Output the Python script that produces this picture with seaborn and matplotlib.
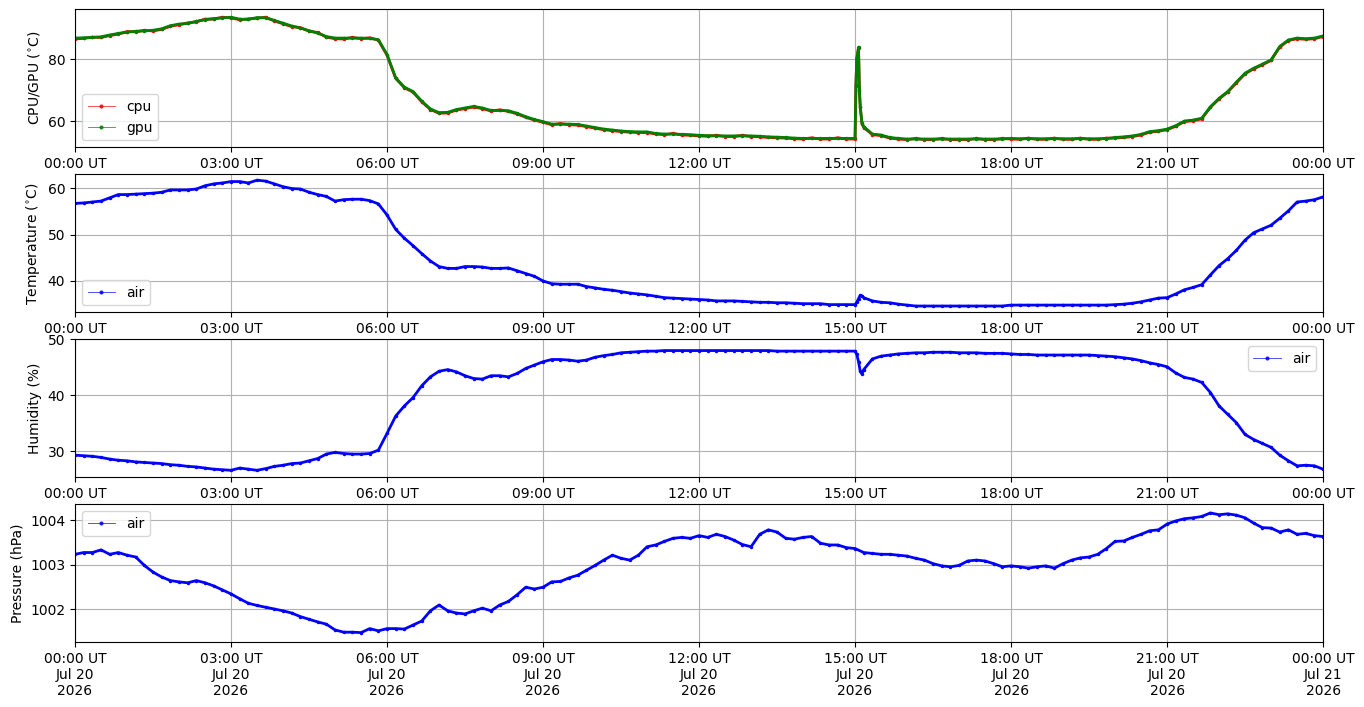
import matplotlib
matplotlib.use("Agg")
import matplotlib.pyplot as plt
import matplotlib.dates as mdates
from matplotlib.lines import Line2D
from matplotlib.ticker import MultipleLocator, ScalarFormatter
import seaborn as sns
import pandas as pd
import numpy as np

# ---------------- data (10-minute samples, 00:00 Jul 20 -> 00:00 Jul 21 2026) ----------------
day_start = "2026-07-20 00:00"
day_end = "2026-07-21 00:00"

gpu_temp = [
    86.8, 86.9, 87.0, 87.2, 87.8, 88.3,
    88.7, 89.0, 89.1, 89.3, 89.8, 90.8,
    91.3, 91.5, 92.2, 92.7, 93.1, 93.3,
    93.5, 92.9, 92.8, 93.4, 93.3, 92.5,
    91.6, 90.7, 90.0, 89.2, 88.4, 87.3,
    86.8, 86.8, 86.8, 86.8, 86.7, 86.3,
    81.5, 74.0, 71.0, 69.6, 66.5, 64.0,
    62.8, 62.9, 63.8, 64.3, 64.8, 64.3,
    63.5, 63.5, 63.4, 62.6, 61.5, 60.6,
    59.9, 59.1, 59.1, 59.1, 59.0, 58.5,
    58.0, 57.5, 57.2, 56.9, 56.7, 56.6,
    56.6, 56.1, 55.9, 55.9, 55.8, 55.7,
    55.5, 55.4, 55.3, 55.3, 55.3, 55.3,
    55.3, 55.2, 55.0, 54.9, 54.8, 54.6,
    54.5, 54.5, 54.5, 54.5, 54.5, 54.5,
    54.5, 58.3, 55.9, 55.6, 54.8, 54.5,
    54.3, 54.3, 54.3, 54.3, 54.3, 54.3,
    54.3, 54.3, 54.3, 54.3, 54.3, 54.3,
    54.5, 54.4, 54.4, 54.4, 54.4, 54.4,
    54.4, 54.4, 54.4, 54.4, 54.4, 54.4,
    54.8, 55.0, 55.3, 55.8, 56.7, 57.0,
    57.5, 58.6, 60.1, 60.4, 61.0, 64.7,
    67.4, 69.6, 72.6, 75.5, 77.1, 78.4,
    79.8, 84.1, 86.2, 86.8, 86.6, 86.8,
    87.5,
]
cpu_temp = [
    86.5, 86.7, 87.1, 87.0, 87.6, 88.1,
    88.9, 88.8, 89.3, 89.1, 89.6, 90.6,
    91.1, 91.7, 92.0, 92.9, 92.9, 93.5,
    93.3, 92.7, 93.0, 93.2, 93.5, 92.3,
    91.4, 90.5, 90.2, 89.0, 88.6, 87.1,
    86.6, 86.5, 87.0, 86.6, 86.9, 86.1,
    81.3, 73.8, 70.8, 69.4, 66.3, 63.8,
    62.6, 62.7, 63.6, 64.1, 64.6, 64.1,
    63.3, 63.7, 63.2, 62.4, 61.3, 60.4,
    59.7, 58.9, 59.3, 58.9, 58.8, 58.3,
    57.8, 57.3, 57.0, 56.7, 56.5, 56.4,
    56.4, 55.9, 55.7, 56.1, 55.6, 55.5,
    55.3, 55.2, 55.5, 55.1, 55.1, 55.5,
    55.1, 55.0, 54.8, 54.7, 54.6, 54.4,
    54.3, 54.7, 54.3, 54.3, 54.7, 54.3,
    54.3, 58.0, 55.7, 55.4, 54.6, 54.3,
    54.1, 54.5, 54.1, 54.1, 54.5, 54.1,
    54.1, 54.1, 54.5, 54.1, 54.1, 54.5,
    54.3, 54.2, 54.6, 54.2, 54.2, 54.6,
    54.2, 54.2, 54.6, 54.2, 54.2, 54.6,
    54.6, 54.8, 55.1, 55.6, 56.5, 56.8,
    57.3, 58.4, 59.9, 60.2, 60.8, 64.5,
    67.2, 69.4, 72.4, 75.3, 76.9, 78.2,
    79.6, 83.9, 86.0, 86.6, 86.4, 86.6,
    87.3,
]
spike_times = ["15:01", "15:02", "15:04", "15:05", "15:06", "15:08"]
gpu_spike = [71.7, 80.3, 83.9, 70.1, 64.7, 59.4]
cpu_spike = [71.5, 80.1, 83.5, 69.9, 64.5, 59.2]

air_temp = [
    56.7, 56.8, 57.0, 57.2, 57.9, 58.6,
    58.6, 58.7, 58.8, 58.9, 59.1, 59.6,
    59.6, 59.6, 59.8, 60.5, 60.9, 61.1,
    61.4, 61.4, 61.1, 61.7, 61.5, 60.9,
    60.3, 59.9, 59.8, 59.1, 58.6, 58.2,
    57.2, 57.5, 57.6, 57.6, 57.3, 56.6,
    54.2, 51.1, 49.2, 47.6, 45.9, 44.3,
    43.1, 42.7, 42.7, 43.1, 43.1, 43.0,
    42.7, 42.7, 42.8, 42.2, 41.6, 41.0,
    40.0, 39.4, 39.3, 39.3, 39.3, 38.8,
    38.5, 38.2, 38.0, 37.7, 37.4, 37.2,
    37.0, 36.7, 36.4, 36.3, 36.2, 36.1,
    36.0, 35.9, 35.7, 35.7, 35.7, 35.6,
    35.5, 35.4, 35.4, 35.3, 35.3, 35.2,
    35.1, 35.1, 35.1, 34.9, 34.9, 34.9,
    34.9, 36.4, 35.7, 35.4, 35.3, 35.0,
    34.8, 34.6, 34.6, 34.6, 34.6, 34.6,
    34.6, 34.6, 34.6, 34.6, 34.6, 34.6,
    34.8, 34.8, 34.8, 34.8, 34.8, 34.8,
    34.8, 34.8, 34.8, 34.8, 34.8, 34.8,
    34.9, 35.0, 35.2, 35.5, 35.9, 36.3,
    36.4, 37.2, 38.1, 38.6, 39.2, 41.3,
    43.3, 44.8, 46.6, 48.8, 50.4, 51.2,
    52.0, 53.5, 55.1, 57.0, 57.2, 57.5,
    58.1,
]
air_spike_times = ["15:02", "15:04", "15:06", "15:08"]
air_temp_spike = [35.4, 36.2, 36.9, 36.8]

humidity = [
    29.3, 29.2, 29.1, 28.9, 28.6, 28.4,
    28.3, 28.1, 28.0, 27.9, 27.8, 27.6,
    27.5, 27.3, 27.2, 27.0, 26.8, 26.7,
    26.6, 27.0, 26.8, 26.6, 26.9, 27.3,
    27.5, 27.8, 27.9, 28.3, 28.7, 29.5,
    29.8, 29.6, 29.5, 29.5, 29.6, 30.2,
    33.2, 36.3, 38.1, 39.6, 41.7, 43.3,
    44.3, 44.6, 44.2, 43.5, 43.0, 42.9,
    43.5, 43.5, 43.3, 43.9, 44.8, 45.4,
    46.0, 46.4, 46.4, 46.3, 46.1, 46.3,
    46.8, 47.1, 47.3, 47.6, 47.7, 47.8,
    47.9, 47.9, 48.0, 48.0, 48.0, 48.0,
    48.0, 48.0, 48.0, 48.0, 48.0, 48.0,
    48.0, 48.0, 48.0, 47.9, 47.9, 47.9,
    47.9, 47.9, 47.9, 47.9, 47.9, 47.9,
    47.9, 44.6, 46.5, 47.0, 47.2, 47.4,
    47.5, 47.6, 47.6, 47.7, 47.7, 47.7,
    47.6, 47.6, 47.6, 47.5, 47.5, 47.5,
    47.4, 47.3, 47.3, 47.2, 47.2, 47.2,
    47.2, 47.2, 47.2, 47.2, 47.1, 47.0,
    46.9, 46.7, 46.5, 46.2, 45.8, 45.5,
    45.1, 44.0, 43.2, 42.9, 42.3, 40.5,
    38.1, 36.6, 35.1, 33.0, 32.1, 31.4,
    30.7, 29.3, 28.3, 27.4, 27.5, 27.4,
    26.8,
]
humidity_spike = [47.3, 46.0, 44.3, 43.8]

pressure = [
    1003.23, 1003.27, 1003.27, 1003.33, 1003.23, 1003.27,
    1003.21, 1003.17, 1002.98, 1002.83, 1002.72, 1002.64,
    1002.61, 1002.59, 1002.64, 1002.59, 1002.52, 1002.43,
    1002.34, 1002.23, 1002.13, 1002.08, 1002.04, 1002.00,
    1001.96, 1001.91, 1001.83, 1001.77, 1001.71, 1001.66,
    1001.53, 1001.48, 1001.48, 1001.47, 1001.56, 1001.51,
    1001.56, 1001.56, 1001.55, 1001.64, 1001.73, 1001.96,
    1002.09, 1001.96, 1001.91, 1001.89, 1001.96, 1002.02,
    1001.96, 1002.09, 1002.17, 1002.32, 1002.49, 1002.45,
    1002.49, 1002.61, 1002.62, 1002.70, 1002.76, 1002.87,
    1002.98, 1003.10, 1003.21, 1003.14, 1003.10, 1003.21,
    1003.40, 1003.44, 1003.52, 1003.59, 1003.61, 1003.59,
    1003.65, 1003.61, 1003.68, 1003.63, 1003.55, 1003.45,
    1003.40, 1003.68, 1003.78, 1003.73, 1003.59, 1003.57,
    1003.61, 1003.63, 1003.48, 1003.44, 1003.44, 1003.38,
    1003.36, 1003.27, 1003.25, 1003.23, 1003.23, 1003.21,
    1003.19, 1003.14, 1003.10, 1003.02, 1002.97, 1002.95,
    1002.98, 1003.08, 1003.10, 1003.08, 1003.02, 1002.95,
    1002.97, 1002.95, 1002.92, 1002.95, 1002.97, 1002.92,
    1003.02, 1003.10, 1003.15, 1003.17, 1003.23, 1003.36,
    1003.52, 1003.53, 1003.61, 1003.68, 1003.76, 1003.78,
    1003.91, 1003.98, 1004.03, 1004.05, 1004.08, 1004.16,
    1004.12, 1004.14, 1004.11, 1004.05, 1003.93, 1003.83,
    1003.82, 1003.73, 1003.78, 1003.68, 1003.70, 1003.65,
    1003.63,
]

ylabels = ["CPU/GPU ($^{\\circ}$C)", "Temperature ($^{\\circ}$C)", "Humidity (%)", "Pressure (hPa)"]
xtick_fmt = "%H:%M UT"
xtick_fmt_last = "%H:%M UT\n%b %d\n%Y"

# ---------------- build frames ----------------
base_t = pd.date_range(day_start, day_end, freq="10min")
day0 = pd.Timestamp(day_start).strftime("%Y-%m-%d")


def with_extra(values, extra_times, extra_values):
    t = list(base_t) + [pd.Timestamp(f"{day0} {s}") for s in extra_times]
    v = list(values) + list(extra_values)
    return pd.DataFrame({"time": t, "value": v}).sort_values("time")


df_cpu = with_extra(cpu_temp, spike_times, cpu_spike)
df_gpu = with_extra(gpu_temp, spike_times, gpu_spike)
df_air = with_extra(air_temp, air_spike_times, air_temp_spike)
df_hum = with_extra(humidity, air_spike_times, humidity_spike)
df_prs = pd.DataFrame({"time": base_t, "value": pressure})

# ---------------- figure ----------------
fig, axes = plt.subplots(4, 1, figsize=(13.64, 7.07), dpi=100)
fig.subplots_adjust(left=0.055, right=0.970, top=0.987, bottom=0.092, hspace=0.196)

LW = 2.0
MS = 2.5


def draw(ax, df, color):
    sns.lineplot(data=df, x="time", y="value", ax=ax, color=color, linewidth=LW,
                 marker="o", markersize=MS, markeredgewidth=0, sort=True,
                 estimator=None, legend=False)


def handle(color, label):
    return Line2D([], [], color=color, lw=0.6, alpha=0.8, marker=".", markersize=4,
                  markeredgecolor=color, markerfacecolor=color, label=label)


draw(axes[0], df_cpu, "red")
draw(axes[0], df_gpu, "green")
axes[0].legend(handles=[handle("red", "cpu"), handle("green", "gpu")], loc="lower left")
axes[0].set_ylim(51.7, 96.1)
axes[0].yaxis.set_major_locator(MultipleLocator(20))

draw(axes[1], df_air, "blue")
axes[1].legend(handles=[handle("blue", "air")], loc="lower left")
axes[1].set_ylim(33.3, 63.0)
axes[1].yaxis.set_major_locator(MultipleLocator(10))

draw(axes[2], df_hum, "blue")
axes[2].legend(handles=[handle("blue", "air")], loc="upper right")
axes[2].set_ylim(25.4, 50.05)
axes[2].yaxis.set_major_locator(MultipleLocator(10))

draw(axes[3], df_prs, "blue")
axes[3].legend(handles=[handle("blue", "air")], loc="upper left")
axes[3].set_ylim(1001.26, 1004.36)
axes[3].yaxis.set_major_locator(MultipleLocator(1))
fmt = ScalarFormatter(useOffset=False)
axes[3].yaxis.set_major_formatter(fmt)

x0 = pd.Timestamp(day_start)
x1 = pd.Timestamp(day_end)
for i, ax in enumerate(axes):
    ax.set_xlim(x0, x1)
    ax.set_ylabel(ylabels[i])
    ax.set_xlabel("")
    ax.grid(True, color="#b0b0b0", linewidth=0.8)
    ax.set_axisbelow(True)
    ax.xaxis.set_major_locator(mdates.HourLocator(byhour=range(0, 24, 3)))
    ax.xaxis.set_major_formatter(mdates.DateFormatter(xtick_fmt_last if i == 3 else xtick_fmt))
    for s in ax.spines.values():
        s.set_color("black")
        s.set_linewidth(0.8)
    ax.tick_params(direction="out", length=3.5, width=0.8, colors="black", labelsize=10)

fig.savefig("out.png", dpi=100)
